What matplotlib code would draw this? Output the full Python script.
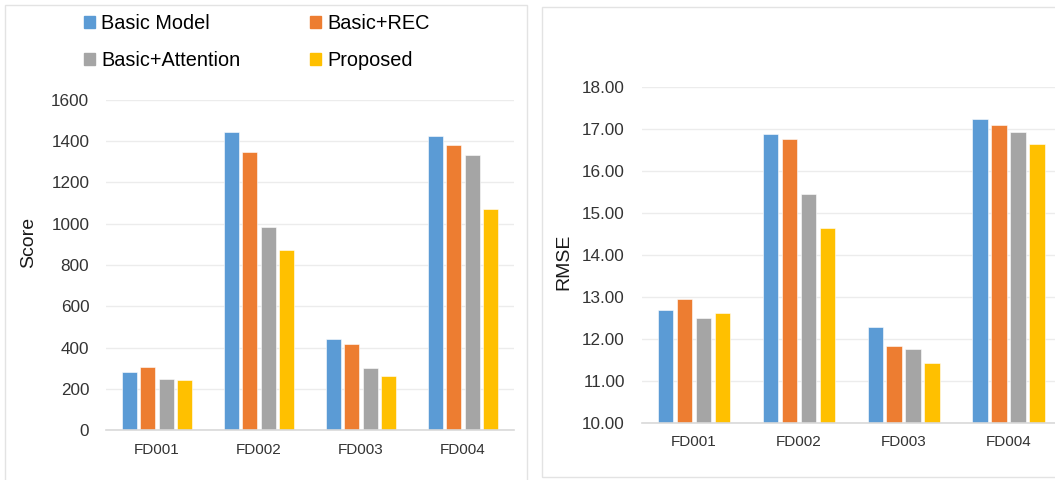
import matplotlib.pyplot as plt
import numpy as np
from matplotlib.patches import Rectangle, Patch

plt.rcParams['font.family'] = ['Liberation Sans', 'DejaVu Sans']

# data sets and models
datasets = ['FD001', 'FD002', 'FD003', 'FD004']
models = ['Basic Model', 'Basic+REC', 'Basic+Attention', 'Proposed']
colors = ['#5B9BD5', '#ED7D31', '#A5A5A5', '#FFC000']

score = [
    [283, 1443, 440, 1427],   # Basic Model
    [305, 1348, 419, 1382],   # Basic+REC
    [247, 983, 299, 1332],    # Basic+Attention
    [242, 874, 260, 1071],    # Proposed
]
rmse = [
    [12.69, 16.89, 12.29, 17.23],
    [12.96, 16.77, 11.84, 17.10],
    [12.51, 15.45, 11.76, 16.93],
    [12.63, 14.64, 11.44, 16.65],
]

W, H = 1055, 480
fig = plt.figure(figsize=(W / 100, H / 100), dpi=100)


def px_axes(x0, y0, x1, y1):
    # pixel box (top-left origin) -> figure fraction
    return fig.add_axes([x0 / W, 1 - y1 / H, (x1 - x0) / W, (y1 - y0) / H])


def draw_bars(ax, values, ylim, yticks, fmt, ylabel, lab_xy):
    x = np.arange(len(datasets))
    step = 0.181
    for i, vals in enumerate(values):
        off = (i - 1.5) * step
        ax.bar(x + off, np.array(vals) - ylim[0], bottom=ylim[0], width=0.147,
               color=colors[i], edgecolor='white', linewidth=0.4,
               label=models[i], zorder=3)
    ax.set_xlim(-0.5, len(datasets) - 0.5)
    ax.set_ylim(*ylim)
    ax.set_yticks(yticks)
    ax.set_yticklabels([fmt.format(v) for v in yticks], fontsize=12.3,
                       color='#333333')
    ax.set_xticks(x)
    ax.set_xticklabels(datasets, fontsize=11, color='#333333')
    ax.tick_params(length=0)
    ax.tick_params(axis='y', pad=12)
    ax.tick_params(axis='x', pad=9)
    ax.grid(axis='y', color='#ececec', linewidth=1, zorder=0)
    for s in ['top', 'right', 'left']:
        ax.spines[s].set_visible(False)
    ax.spines['bottom'].set_color('#d9d9d9')
    ax.spines['bottom'].set_linewidth(1.2)
    ax.spines['bottom'].set_zorder(4)
    ax.set_ylabel(ylabel, fontsize=14, color='#1a1a1a')
    ax.yaxis.set_label_coords(*lab_xy)


# panel frames
fig.add_artist(Rectangle((5 / W, -0.05), 522 / W, 1.05 - 5 / H,
                         transform=fig.transFigure, fill=False,
                         edgecolor='#e3e3e3', linewidth=1))
fig.add_artist(Rectangle((542 / W, 1 - 477 / H), 0.5, 470 / H,
                         transform=fig.transFigure, fill=False,
                         edgecolor='#e3e3e3', linewidth=1))

ax1 = px_axes(106, 100, 514, 430)
draw_bars(ax1, score, (0, 1600), np.arange(0, 1601, 200), '{:.0f}', 'Score',
          (-0.17, 0.567))

ax2 = px_axes(641.5, 87, 1061, 423)
draw_bars(ax2, rmse, (10, 18), np.arange(10, 18.01, 1), '{:.2f}', 'RMSE',
          (-0.164, 0.48))

# legend is filled column by column, so order the entries to read row-wise
order = [0, 2, 1, 3]
handles = [Patch(color=colors[i]) for i in order]
fig.legend(handles, [models[i] for i in order], loc='upper left', ncol=2,
           bbox_to_anchor=(84 / W, 1 - 14 / H), frameon=False,
           fontsize=14.3, handlelength=0.57, handleheight=0.57,
           handletextpad=0.3, columnspacing=3.5, labelspacing=0.9,
           borderpad=0, borderaxespad=0)

fig.savefig('out.png', dpi=100, facecolor='white')
